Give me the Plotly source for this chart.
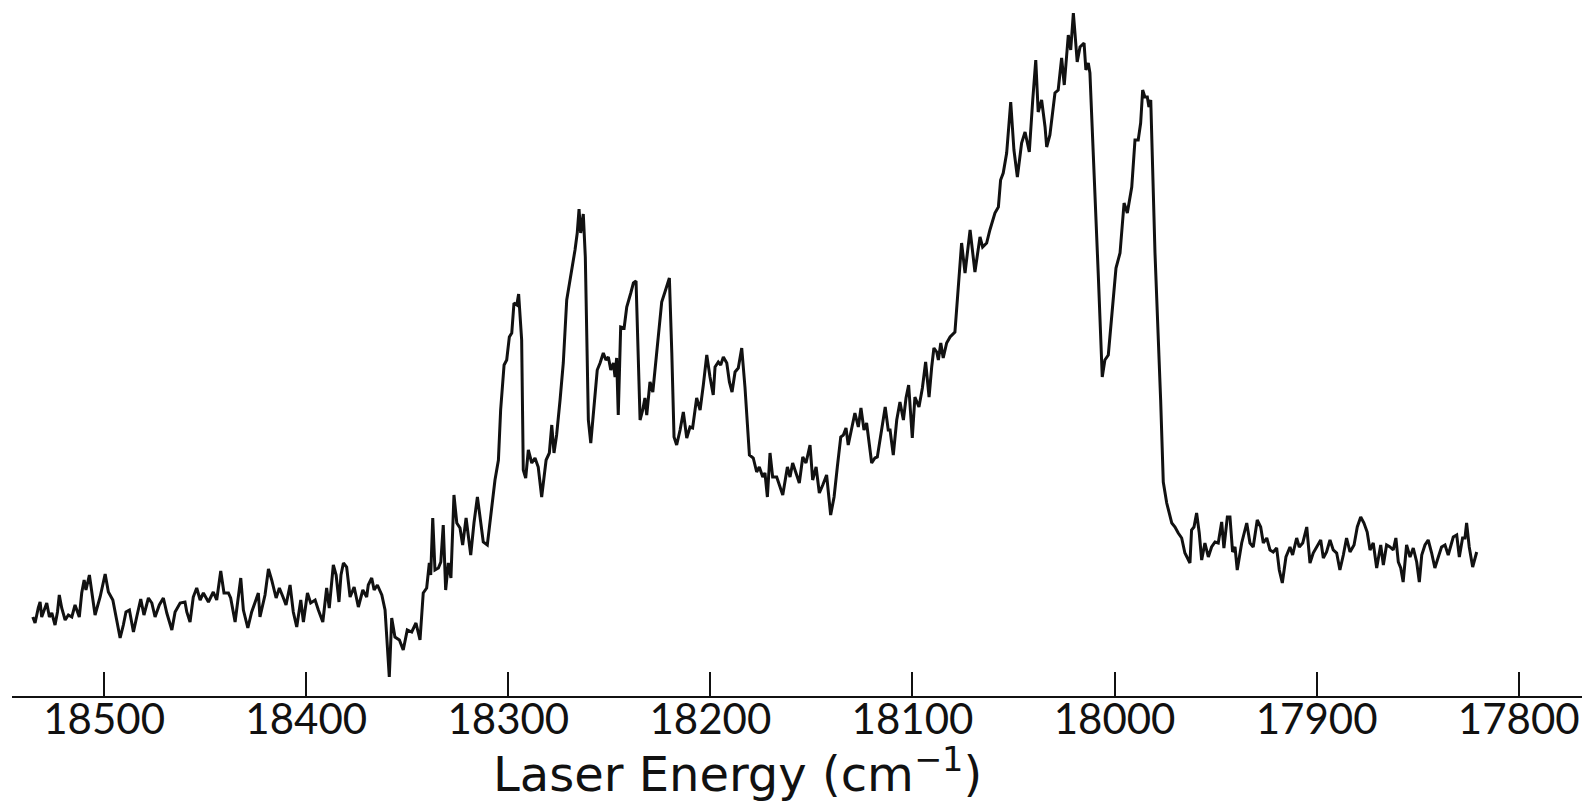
import plotly.graph_objects as go

# Laser excitation spectrum: laser energy (cm^-1) vs. signal (arbitrary units)
energy_cm1 = [
    18535.3, 18534.2, 18532.6, 18531.7, 18530.9, 18529.7, 18528.4, 18527.1, 18525.9, 18524.3,
    18523.1, 18522.2, 18521.0, 18519.3, 18517.7, 18516.0, 18514.4, 18512.3, 18511.1, 18509.9,
    18509.0, 18507.3, 18506.1, 18504.5, 18502.0, 18499.5, 18497.9, 18495.7, 18493.8, 18492.1,
    18490.5, 18489.2, 18487.5, 18485.5, 18483.9, 18481.9, 18480.3, 18478.1, 18476.4, 18474.8,
    18472.7, 18470.7, 18469.0, 18466.5, 18464.9, 18462.4, 18460.0, 18459.1, 18457.5, 18455.9,
    18454.2, 18452.5, 18450.9, 18448.4, 18446.0, 18444.3, 18442.3, 18440.7, 18438.5, 18437.4,
    18435.2, 18433.6, 18432.4, 18431.1, 18428.9, 18427.0, 18425.3, 18423.7, 18422.9, 18420.4,
    18418.7, 18417.1, 18414.9, 18413.3,
    18411.3, 18410.0, 18408.0, 18406.4, 18404.7, 18402.7, 18401.4, 18399.4, 18397.8, 18395.6,
    18394.0, 18391.8, 18389.9, 18388.6, 18386.6, 18385.2, 18383.8, 18382.8, 18381.6, 18380.0,
    18378.3, 18376.3, 18374.2, 18372.0, 18370.1, 18369.3, 18367.6, 18366.4, 18364.8, 18362.6,
    18361.0, 18359.9, 18358.9, 18357.7, 18356.1, 18353.9, 18352.0, 18350.0, 18347.8, 18345.7,
    18343.7, 18342.1, 18340.4, 18339.1, 18338.4, 18337.4, 18336.3, 18334.6, 18333.4, 18332.2,
    18331.0, 18329.7, 18328.4, 18326.9, 18325.5, 18323.9, 18322.6, 18320.9, 18318.6, 18317.0,
    18315.3, 18314.0, 18312.4, 18310.4, 18308.7, 18306.6, 18304.9, 18303.8, 18302.1, 18300.8,
    18299.5, 18298.3, 18297.2, 18295.8, 18294.9, 18293.4, 18292.6, 18291.4,
    18290.1, 18288.4, 18286.8, 18285.2, 18283.5, 18281.3, 18279.7, 18278.5, 18277.4, 18276.1,
    18274.4, 18272.8, 18271.1, 18268.6, 18267.0, 18265.9, 18265.0, 18264.2, 18262.9, 18261.9,
    18260.4, 18259.2, 18257.6, 18256.0, 18254.6, 18253.0, 18251.7, 18250.5, 18249.3, 18248.0,
    18247.2, 18246.4, 18245.6, 18244.4, 18242.7, 18241.4, 18239.4, 18238.1, 18236.8, 18234.8,
    18233.5, 18232.4, 18231.5, 18229.9, 18228.5, 18226.6, 18224.1, 18222.5, 18221.3, 18220.3,
    18219.1, 18218.0, 18216.7, 18215.0, 18213.4, 18211.7, 18210.1, 18208.8, 18206.8, 18205.1,
    18203.5, 18201.8, 18200.2, 18198.6, 18197.7, 18196.1, 18194.9, 18193.6, 18191.9, 18190.6,
    18189.3, 18187.8, 18186.2, 18184.5, 18182.9, 18180.7, 18178.8, 18177.1, 18175.8, 18174.1,
    18173.0, 18171.8,
    18170.5, 18169.2, 18167.2, 18165.6, 18164.2, 18161.9, 18160.6, 18159.3, 18157.6, 18156.0,
    18154.3, 18152.7, 18150.7, 18149.4, 18147.7, 18146.1, 18144.4, 18142.5, 18140.5, 18138.8,
    18137.2, 18135.5, 18134.2, 18132.9, 18131.8, 18130.1, 18128.5, 18126.8, 18125.5, 18124.0,
    18122.7, 18120.2, 18118.6, 18117.4, 18115.7, 18113.5, 18112.0, 18111.1, 18109.5, 18107.8,
    18106.2, 18104.5, 18103.2, 18101.9, 18100.1, 18098.8, 18096.8, 18095.1, 18093.5, 18091.8,
    18090.5, 18089.4, 18088.0, 18087.2, 18086.0, 18084.8, 18083.1, 18081.4, 18079.0,
    18077.3, 18075.7, 18074.0, 18071.5, 18069.1, 18066.6, 18065.3, 18063.3, 18061.7, 18059.2,
    18057.5, 18056.4, 18055.1, 18053.4, 18051.4, 18049.8, 18048.1, 18046.0, 18044.3, 18042.2,
    18040.5, 18039.0, 18037.8, 18036.1, 18034.4, 18033.6, 18032.0, 18029.5, 18027.9, 18026.2,
    18024.9, 18024.2, 18022.9, 18021.7, 18020.4, 18019.6, 18018.5, 18017.1, 18015.1, 18014.2,
    18013.0, 18012.2, 18009.7, 18008.1, 18006.1, 18004.8, 18003.1, 18001.4, 17999.3, 17997.3,
    17995.3, 17993.7, 17991.5, 17989.9, 17988.3, 17987.1, 17986.1, 17985.0, 17983.8, 17983.0,
    17982.1, 17980.0, 17978.4, 17977.2,
    17975.9, 17974.2, 17971.7, 17970.1, 17968.5, 17966.8, 17965.2, 17962.7, 17961.9, 17960.7,
    17959.4, 17958.1, 17956.9, 17955.3, 17953.6, 17952.0, 17950.3, 17948.7, 17947.0, 17945.9,
    17944.2, 17942.9, 17941.6, 17940.4, 17939.3, 17937.1, 17934.6, 17933.0, 17931.4, 17929.4,
    17927.7, 17926.4, 17924.7, 17923.1, 17921.5, 17919.8, 17918.5, 17917.0, 17915.2, 17913.2,
    17911.9, 17909.9, 17908.6, 17906.9, 17904.9, 17903.3, 17901.7, 17900.0, 17898.0, 17896.7,
    17895.1, 17893.4, 17891.8, 17890.1, 17888.5, 17886.8, 17885.2, 17883.5, 17881.5, 17879.9,
    17878.2, 17876.6, 17875.0, 17873.6, 17872.0, 17870.3, 17868.3, 17867.0, 17865.4, 17863.7,
    17862.1, 17860.8, 17859.6, 17858.4, 17857.2, 17855.5, 17853.8, 17852.2, 17850.5, 17849.2,
    17848.0, 17846.4, 17844.8, 17843.1, 17841.5, 17839.8, 17838.2, 17836.5, 17834.9, 17832.4,
    17830.7, 17829.4, 17827.8, 17826.6, 17825.8, 17824.5, 17822.8, 17820.8,
]

signal = [
    8.3, 7.7, 9.2, 9.8, 8.3, 9.0, 9.7, 8.3, 8.7, 7.5,
    8.8, 10.5, 9.2, 8.0, 8.5, 8.3, 9.5, 8.3, 10.7, 12.0,
    11.0, 12.5, 10.8, 8.5, 10.3, 12.6, 10.8, 10.0, 8.0, 6.2,
    7.5, 8.8, 9.0, 6.8, 8.3, 10.1, 8.5, 10.2, 9.7, 8.3,
    9.5, 10.2, 8.7, 7.0, 8.8, 9.7, 9.8, 8.8, 7.8, 10.3,
    11.2, 10.0, 10.7, 9.8, 10.8, 10.0, 12.9, 10.7, 10.7, 10.2,
    7.8, 10.3, 12.2, 9.0, 7.2, 8.8, 9.7, 10.7, 8.3, 10.5,
    13.1, 12.0, 10.2, 11.2,
    10.2, 9.5, 11.5, 8.8, 7.3, 10.0, 7.8, 10.7, 9.7, 10.0,
    9.0, 7.8, 11.2, 9.2, 13.5, 12.5, 9.8, 12.5, 13.7, 13.3,
    10.3, 11.3, 9.3, 11.0, 10.3, 11.5, 12.2, 11.0, 11.5, 10.5,
    9.0, 5.7, 2.3, 8.2, 6.3, 6.0, 5.0, 7.0, 6.8, 7.7,
    6.0, 10.7, 11.2, 13.7, 12.5, 18.2, 13.0, 13.2, 13.8, 17.5,
    11.0, 13.7, 12.2, 20.5, 17.7, 17.2, 15.5, 18.2, 14.5, 17.7,
    20.3, 18.3, 15.8, 15.5, 18.3, 22.0, 24.0, 29.0, 33.5, 34.0,
    36.3, 36.7, 39.7, 39.5, 40.6, 36.0, 23.0, 22.2,
    25.0, 23.7, 24.2, 23.3, 20.3, 24.0, 24.7, 27.5, 24.7, 26.5,
    30.0, 33.7, 40.0, 43.0, 45.0, 46.7, 49.1, 46.7, 48.6, 44.3,
    28.0, 25.7, 29.3, 33.0, 33.7, 34.7, 34.0, 34.3, 33.0, 33.7,
    32.3, 34.2, 28.5, 37.3, 37.2, 39.3, 40.7, 41.7, 41.9, 28.0,
    29.0, 30.2, 28.5, 31.8, 30.8, 35.0, 39.8, 40.8, 41.5, 42.2,
    34.7, 26.3, 25.5, 27.0, 28.8, 26.2, 27.3, 27.2, 30.2, 29.0,
    31.5, 34.5, 32.3, 30.5, 33.3, 33.8, 33.5, 34.3, 33.7, 31.8,
    30.8, 32.8, 33.2, 35.2, 31.3, 24.5, 24.2, 22.8, 23.3, 22.3,
    22.7, 20.3,
    24.7, 22.3, 22.3, 21.3, 20.5, 23.3, 22.3, 23.7, 22.7, 21.7,
    24.3, 23.7, 25.5, 22.0, 23.3, 20.7, 21.5, 22.5, 18.5, 20.3,
    23.3, 26.3, 26.5, 27.2, 25.5, 27.3, 28.7, 27.3, 29.2, 27.0,
    27.7, 23.7, 24.2, 24.3, 26.3, 29.3, 27.0, 27.0, 24.5, 28.0,
    29.8, 28.0, 30.2, 31.5, 26.2, 30.3, 29.3, 31.2, 33.8, 30.3,
    33.3, 35.2, 34.8, 34.0, 35.7, 34.2, 35.7, 36.3, 36.8,
    41.0, 45.7, 42.7, 47.0, 42.8, 46.3, 45.3, 45.7, 47.0, 48.7,
    49.3, 52.0, 52.7, 54.7, 59.8, 55.0, 52.3, 55.7, 56.8, 54.8,
    60.0, 64.0, 58.8, 60.0, 57.3, 55.3, 56.5, 60.7, 61.0, 64.2,
    61.5, 63.3, 66.5, 65.0, 68.7, 66.7, 63.8, 65.3, 65.7, 63.0,
    63.7, 62.7, 51.3, 42.7, 32.3, 34.0, 34.5, 38.3, 43.2, 44.7,
    49.7, 48.7, 51.3, 56.0, 56.0, 57.7, 61.0, 60.3, 60.3, 59.3,
    60.0, 44.7, 36.7, 30.0,
    21.8, 19.7, 17.7, 17.3, 16.7, 16.2, 14.7, 13.7, 17.0, 17.3,
    18.7, 16.7, 14.0, 15.7, 14.3, 15.3, 15.8, 15.7, 17.8, 15.2,
    18.3, 18.3, 14.8, 15.3, 13.0, 15.7, 17.7, 15.7, 15.3, 18.0,
    17.3, 15.7, 16.2, 15.0, 14.8, 15.2, 13.0, 11.7, 14.3, 15.3,
    14.5, 16.2, 15.3, 15.7, 17.3, 13.7, 14.7, 15.3, 16.0, 14.2,
    14.8, 16.0, 15.0, 14.7, 13.0, 14.5, 16.2, 14.8, 15.5, 17.3,
    18.3, 17.7, 16.8, 15.0, 15.7, 13.2, 15.5, 13.5, 15.5, 15.3,
    15.0, 16.2, 13.8, 13.2, 11.8, 15.5, 14.3, 15.2, 13.8, 11.8,
    14.5, 15.5, 16.0, 14.7, 13.2, 14.3, 15.3, 15.5, 14.5, 16.3,
    16.5, 14.3, 16.2, 16.2, 17.7, 15.3, 13.3, 14.8,
]

tick_values = [18500, 18400, 18300, 18200, 18100, 18000, 17900, 17800]
tick_labels = ["18500", "18400", "18300", "18200", "18100", "18000", "17900", "17800"]
x_title = "Laser Energy (cm<sup>\u22121</sup>)"

TICK_FONT = "Lato"
TITLE_FONT = "DejaVu Sans"

fig = go.Figure()
fig.add_trace(go.Scatter(
    x=energy_cm1,
    y=signal,
    mode="lines",
    line=dict(color="#111111", width=3),
    showlegend=False,
    hoverinfo="x+y",
))

fig.update_layout(
    width=1592,
    height=807,
    margin=dict(l=12, r=10, t=0, b=111, pad=0),
    paper_bgcolor="white",
    plot_bgcolor="white",
    font=dict(family=TICK_FONT, color="#111111"),
    xaxis=dict(
        range=[18545.6, 17768.7],
        tickmode="array",
        tickvals=tick_values,
        ticktext=tick_labels,
        ticks="inside",
        ticklen=24,
        tickwidth=2,
        tickcolor="#111111",
        ticklabelstandoff=-14,
        showline=True,
        linecolor="#111111",
        linewidth=2,
        showgrid=False,
        zeroline=False,
        tickfont=dict(family=TICK_FONT, size=42, color="#111111"),
    ),
    yaxis=dict(
        range=[0.4, 70],
        visible=False,
        showgrid=False,
        zeroline=False,
    ),
    annotations=[
        dict(
            text=x_title,
            xref="paper",
            yref="paper",
            x=0.4618,
            y=-0.108,
            xanchor="center",
            yanchor="middle",
            showarrow=False,
            font=dict(family=TITLE_FONT, size=48, color="#111111"),
        )
    ],
)

fig.write_html("out.html")
